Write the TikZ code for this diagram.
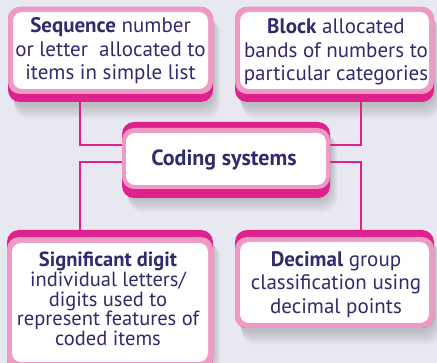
\documentclass[tikz,border=0pt]{standalone}
\usepackage{fontspec}
\setmainfont{PT Sans}
\definecolor{bg}{HTML}{E8E8F0}
\definecolor{mag}{HTML}{E0208C}
\definecolor{pinkrim}{HTML}{EE9AC4}
\definecolor{navy}{HTML}{2E2B6E}
\tikzset{
  conn/.style={draw=mag, line width=2pt},
  darkpart/.style={fill=mag, rounded corners=12pt},
  rimpart/.style={fill=pinkrim, rounded corners=12pt},
  whitepart/.style={fill=white, rounded corners=9pt},
  txt/.style={text=navy, align=center, inner sep=0pt, font=\fontsize{21}{23.5}\selectfont},
  txtbig/.style={text=navy, align=center, inner sep=0pt, font=\fontsize{22}{23.5}\selectfont},
  txtsmall/.style={text=navy, align=center, inner sep=0pt, font=\fontsize{20.5}{19.6}\selectfont},
}
\newcommand\softshadow[4]{%
  \foreach \k in {1,...,8}{
    \fill[black, opacity=0.025, rounded corners=14pt]
      (#1+\k*0.6,#2+\k*0.9) rectangle (#3+\k*0.9,#4+\k*1.8);
  }}
\begin{document}
\begin{tikzpicture}[x=1pt,y=-1pt]
\fill[bg] (0,0) rectangle (437,363);
\useasboundingbox (0,0) rectangle (437,363);

% shadows
\softshadow{10}{12}{213}{104}
\softshadow{237}{12}{434}{104}
\softshadow{124}{128}{330}{198}
\softshadow{9}{236}{213}{363}
\softshadow{237}{236}{434}{330}

% connector anchors
\coordinate (seqb) at (80,100);
\coordinate (blockb) at (361,100);
\coordinate (codlt) at (124,145);
\coordinate (codrt) at (328,145);
\coordinate (codlb) at (124,162);
\coordinate (codrb) at (328,162);
\coordinate (sigt) at (80,232);
\coordinate (dect) at (361,232);

\draw[conn] (seqb) |- (codlt);
\draw[conn] (blockb) |- (codrt);
\draw[conn] (codlb) -| (sigt);
\draw[conn] (codrb) -| (dect);

% top-left box
\fill[darkpart] (8,7) rectangle (213,102);
\fill[rimpart] (8,7) rectangle (213,94);
\fill[whitepart] (13,12) rectangle (208,89);
\node[txt] (seq) at (110.5,51) {\textbf{Sequence} number\\or letter\ \ allocated to\\items in simple list};

% top-right box
\fill[darkpart] (235,7) rectangle (434,102);
\fill[rimpart] (235,7) rectangle (434,94);
\fill[whitepart] (240,12) rectangle (429,89);
\node[txt] (block) at (336,52) {\textbf{Block} allocated\\bands of numbers to\\particular categories};

% centre box
\fill[darkpart] (122,122) rectangle (330,198);
\fill[rimpart] (122,128) rectangle (330,189);
\fill[whitepart] (126,133) rectangle (326,185);
\node[txtbig] (coding) at (224,160) {\textbf{Coding systems}};

% bottom-left box
\fill[darkpart] (7,230) rectangle (213,372);
\fill[rimpart] (7,237) rectangle (213,372);
\fill[whitepart] (12,243) rectangle (208,362);
\node[txtsmall] (sig) at (108,299) {\textbf{Significant digit}\\individual letters/\\digits used to\\represent features of\\coded items};

% bottom-right box
\fill[darkpart] (235,230) rectangle (434,328);
\fill[rimpart] (235,237) rectangle (434,328);
\fill[whitepart] (240,242) rectangle (429,323);
\node[txt] (dec) at (336,284.5) {\textbf{Decimal} group\\classification using\\decimal points};
\end{tikzpicture}
\end{document}
